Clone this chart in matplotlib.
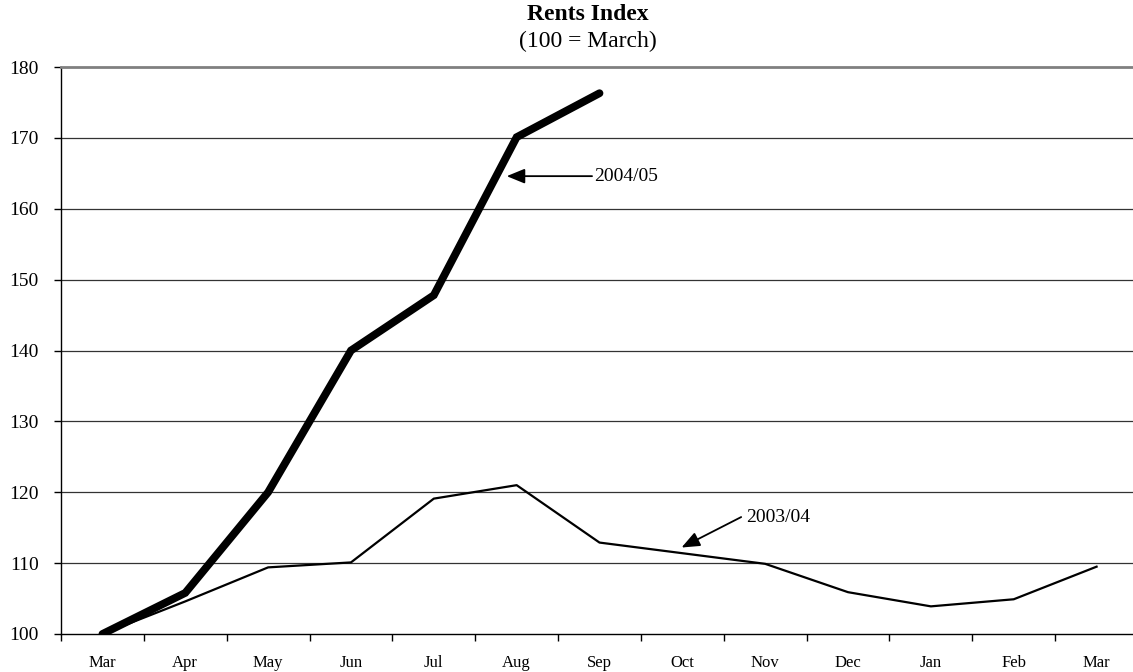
import matplotlib
matplotlib.use('Agg')
import matplotlib.pyplot as plt
import numpy as np

plt.rcParams['font.family'] = ['Liberation Serif', 'DejaVu Serif']

# Data
months = ['Mar', 'Apr', 'May', 'Jun', 'Jul', 'Aug', 'Sep',
          'Oct', 'Nov', 'Dec', 'Jan', 'Feb', 'Mar']
rents_2004 = [100.0, 105.8, 120.0, 140.0, 147.8, 170.1, 176.3]
rents_2003 = [100.0, 104.6, 109.4, 110.1, 119.1, 121.0, 112.9,
              111.4, 109.9, 105.9, 103.9, 104.9, 109.5]
y_ticks = [100, 110, 120, 130, 140, 150, 160, 170, 180]

W, H = 1133, 672
fig = plt.figure(figsize=(W / 100, H / 100), dpi=100)
# plot area runs a little past the right edge of the picture
ax = fig.add_axes([61 / W, 38 / H, 1077 / W, 567 / H])

x = np.arange(len(months))
ax.plot(x, rents_2003, color='black', lw=1.6, zorder=3)
ax.plot(x[:len(rents_2004)], rents_2004, color='black', lw=5.6,
        solid_capstyle='round', solid_joinstyle='miter', zorder=4)

ax.set_xlim(-0.5, len(months) - 0.5)
ax.set_ylim(100, 180)

# category labels in the middle, tick marks between categories
ax.set_xticks(x)
ax.set_xticklabels(months, fontsize=12)
ax.set_xticks(np.arange(-0.5, len(months)), minor=True)
ax.tick_params(axis='x', which='major', length=0, pad=15)
ax.tick_params(axis='x', which='minor', length=5, width=1, direction='out')

ax.set_yticks(y_ticks)
ax.set_yticklabels([str(v) for v in y_ticks], fontsize=14)
ax.tick_params(axis='y', length=5, width=1, direction='out', pad=11)

for v in y_ticks[1:-1]:
    ax.axhline(v, color='#333333', lw=0.9, zorder=1)

ax.spines['right'].set_visible(False)
ax.spines['top'].set_color('#808080')
ax.spines['top'].set_linewidth(2)
ax.spines['left'].set_linewidth(1)
ax.spines['bottom'].set_linewidth(1)

arrow = dict(arrowstyle='-|>,head_length=1.1,head_width=0.45',
             color='black', lw=1.3, shrinkA=0, shrinkB=0)
ax.annotate('', xy=(4.88, 164.6), xytext=(5.91, 164.6), arrowprops=arrow)
ax.text(5.94, 164.6, '2004/05', fontsize=14, ha='left', va='center')
ax.annotate('', xy=(6.99, 112.2), xytext=(7.71, 116.5), arrowprops=arrow)
ax.text(7.77, 116.5, '2003/04', fontsize=14, ha='left', va='center')

fig.text(588 / W, 1 - 14 / H, 'Rents Index', fontsize=17,
         fontweight='bold', ha='center', va='center')
fig.text(588 / W, 1 - 41 / H, '(100 = March)', fontsize=17,
         ha='center', va='center')

fig.savefig('out.png', dpi=100)
